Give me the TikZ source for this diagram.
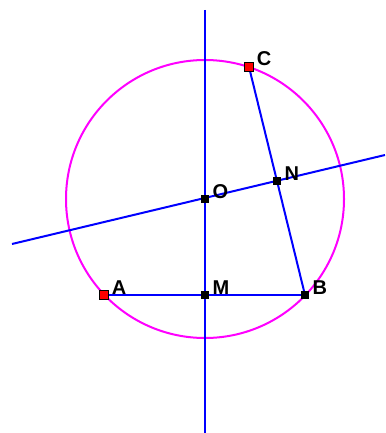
\documentclass[tikz,border=0pt]{standalone}
\usepackage{fontspec}
\setmainfont{Liberation Sans}
\usetikzlibrary{positioning}
\definecolor{line}{HTML}{0000FF}
\definecolor{circ}{HTML}{FF00FF}
\definecolor{ptred}{HTML}{FF0000}
\tikzset{
  x=1pt,y=-1pt,
  every node/.style={font=\fontsize{20}{24}\selectfont\bfseries,text=black,inner sep=1pt},
  seg/.style={draw=line,line width=2pt},
  circle line/.style={draw=circ,line width=2pt},
  pt/.style={fill=black,minimum size=8.5pt,inner sep=0pt,rectangle},
  redpt/.style={pt,fill=ptred,draw=black,line width=1pt},
}
\begin{document}
\begin{tikzpicture}
\useasboundingbox (0,0) rectangle (385,433);

\coordinate (O) at (205,199);
\coordinate (A) at (104,295);
\coordinate (M) at (205,295);
\coordinate (B) at (305,295);
\coordinate (C) at (249,67);
\coordinate (N) at (277,181);
\coordinate (top) at (205,10);
\coordinate (bot) at (205,433);
\coordinate (west) at (12,244);
\coordinate (east) at (385,155);

\draw[circle line] (O) circle (139);

\draw[seg] (top) -- (bot);
\draw[seg] (west) -- (east);
\draw[seg] (A) -- (B);
\draw[seg] (C) -- (B);

\node[redpt] (pA) at (A) {};
\node[redpt] (pC) at (C) {};
\node[pt] (pO) at (O) {};
\node[pt] (pM) at (M) {};
\node[pt] (pB) at (B) {};
\node[pt] (pN) at (N) {};

\node[above right=-5pt and 2pt of pC] {C};
\node[above right=-5pt and 2pt of pN] {N};
\node[above right=-5pt and 2pt of pO] {O};
\node[above right=-5pt and 2pt of pA] {A};
\node[above right=-5pt and 2pt of pM] {M};
\node[above right=-5pt and 2pt of pB] {B};

\end{tikzpicture}
\end{document}
